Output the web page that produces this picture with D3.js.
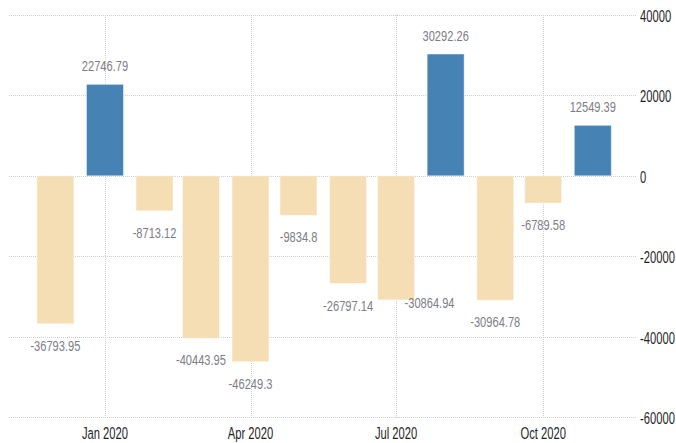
<!DOCTYPE html>
<html>
<head>
<meta charset="utf-8">
<script src="https://cdn.jsdelivr.net/npm/d3@7"></script>
<style>
  body { margin: 0; background: #fff; }
  svg { display: block; }
  .grid line { stroke: #cfcfcf; stroke-dasharray: 1,1; shape-rendering: crispEdges; }
  .axis text { font-family: "Liberation Sans", Arial, sans-serif; font-size: 16.5px; fill: #1f1f2a; }
  .valueLabel { font-family: "Liberation Sans", Arial, sans-serif; font-size: 15px; fill: #7d7d85; }
</style>
</head>
<body>
<div id="chart"></div>
<script>
// monthly values, Dec 2019 - Nov 2020
var months = ["2019-12", "2020-01", "2020-02", "2020-03", "2020-04", "2020-05",
              "2020-06", "2020-07", "2020-08", "2020-09", "2020-10", "2020-11"];
var values = [-36793.95, 22746.79, -8713.12, -40443.95, -46249.3, -9834.8,
              -26797.14, -30864.94, 30292.26, -30964.78, -6789.58, 12549.39];
var yTicks = [40000, 20000, 0, -20000, -40000, -60000];

var width = 676, height = 443;
var plot = { left: 9, right: 636, top: 15, bottom: 417 };
var barWidth = 37;
var squeezeAxis = 0.68, squeezeLabel = 0.74; // the lettering is very narrow

var parseMonth = d3.utcParse("%Y-%m");
var data = months.map(function(m, i){ return { date: parseMonth(m), value: values[i] }; });

var svg = d3.select("#chart").append("svg")
  .attr("width", width)
  .attr("height", height);

var x = d3.scaleUtc()
  .domain([new Date(Date.UTC(2019, 10, 2)), new Date(Date.UTC(2020, 10, 28))])
  .range([plot.left, plot.right]);

var y = d3.scaleLinear()
  .domain([-60000, 40000])
  .range([plot.bottom, plot.top]);

var xTicks = x.ticks(d3.utcMonth.every(3)).filter(function(d){ return d >= x.domain()[0]; });

/** grid **/
var grid = svg.append("g").attr("class", "grid");
grid.selectAll(".hgrid")
  .data(yTicks)
  .enter().append("line")
  .attr("x1", plot.left)
  .attr("x2", plot.right)
  .attr("y1", function(d){ return Math.round(y(d)) + 0.5; })
  .attr("y2", function(d){ return Math.round(y(d)) + 0.5; });
grid.selectAll(".vgrid")
  .data(xTicks)
  .enter().append("line")
  .attr("x1", function(d){ return Math.round(x(d)) + 0.5; })
  .attr("x2", function(d){ return Math.round(x(d)) + 0.5; })
  .attr("y1", plot.top)
  .attr("y2", plot.bottom + 2);

/** bars **/
svg.selectAll(".bar")
  .data(data)
  .enter().append("rect")
  .attr("class", "bar")
  .attr("x", function(d){ return x(d.date) - barWidth / 2; })
  .attr("width", barWidth)
  .attr("y", function(d){ return y(Math.max(0, d.value)); })
  .attr("height", function(d){ return Math.abs(y(d.value) - y(0)); })
  .style("fill", function(d){ return d.value >= 0 ? "#4682b4" : "#f5deb3"; })
  .style("stroke", "#ffffff")
  .style("stroke-opacity", 0.45)
  .style("stroke-width", 1);

/** value labels **/
var place = function(px, py){
  return "translate(" + px + "," + py + ") scale(" + squeezeLabel + ",1)";
};
var labels = svg.selectAll(".valueLabel")
  .data(data)
  .enter().append("text")
  .attr("class", "valueLabel")
  .attr("text-anchor", "middle")
  .attr("transform", function(d){
    return place(x(d.date), d.value >= 0 ? y(d.value) - 13 : y(d.value) + 27);
  })
  .text(function(d){ return d.value; });

// nudge a label sideways when it runs into the previous one
var prevBox = null;
labels.each(function(d){
  var w = this.getBBox().width * squeezeLabel;
  var cx = x(d.date);
  var cy = d.value >= 0 ? y(d.value) - 13 : y(d.value) + 27;
  if (prevBox && cx - w / 2 < prevBox.right && Math.abs(cy - prevBox.y) < 17) {
    cx = x(d.date) + barWidth / 2 - 10 + w / 2;
    cy = y(d.value) + 8;
    d3.select(this).attr("transform", place(cx, cy));
  }
  prevBox = { right: cx + w / 2, y: cy };
});

/** axes **/
var yAxis = svg.append("g")
  .attr("class", "axis")
  .attr("transform", "translate(" + plot.right + ",0)");
yAxis.selectAll("text")
  .data(yTicks)
  .enter().append("text")
  .attr("transform", function(d){ return "translate(4," + (y(d) + 7) + ") scale(" + squeezeAxis + ",1)"; })
  .text(function(d){ return d; });

var xAxis = svg.append("g").attr("class", "axis");
xAxis.selectAll("text")
  .data(xTicks)
  .enter().append("text")
  .attr("text-anchor", "middle")
  .attr("transform", function(d){ return "translate(" + x(d) + "," + (plot.bottom + 22) + ") scale(" + squeezeAxis + ",1)"; })
  .text(d3.utcFormat("%b %Y"));
</script>
</body>
</html>
